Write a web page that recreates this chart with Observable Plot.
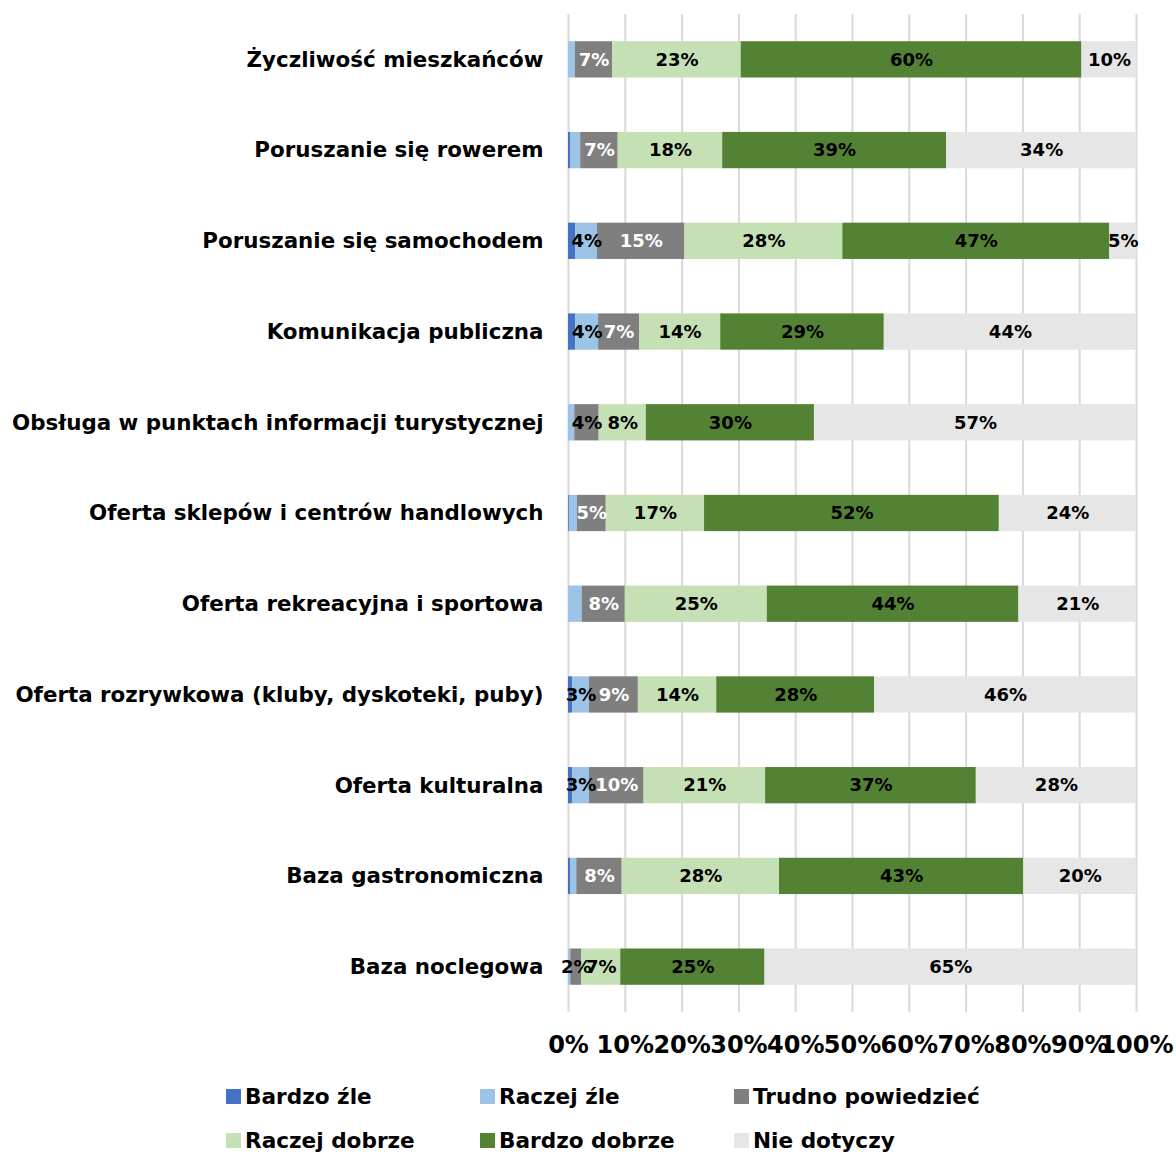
<!DOCTYPE html>
<html>
<head>
<meta charset="utf-8">
<script src="https://cdn.jsdelivr.net/npm/d3@7"></script>
<script src="https://cdn.jsdelivr.net/npm/@observablehq/plot@0.6"></script>
<style>
  html, body { margin: 0; padding: 0; background: #ffffff; }
  body { width: 1176px; font-family: "DejaVu Sans", sans-serif; font-weight: bold; }
  #legend { position: relative; width: 1176px; height: 88px; margin-top: 12px; }
  .item { position: absolute; display: flex; align-items: center; font-size: 21.6px; color: #000; white-space: nowrap; height: 44px; }
  .sw { width: 15px; height: 15px; margin-right: 4px; display: inline-block; }
</style>
</head>
<body>
<div id="chart"></div>
<div id="legend"></div>
<script>
const categories = [
  "Życzliwość mieszkańców",
  "Poruszanie się rowerem",
  "Poruszanie się samochodem",
  "Komunikacja publiczna",
  "Obsługa w punktach informacji turystycznej",
  "Oferta sklepów i centrów handlowych",
  "Oferta rekreacyjna i sportowa",
  "Oferta rozrywkowa (kluby, dyskoteki, puby)",
  "Oferta kulturalna",
  "Baza gastronomiczna",
  "Baza noclegowa"
];
const seriesNames = ["Bardzo źle", "Raczej źle", "Trudno powiedzieć", "Raczej dobrze", "Bardzo dobrze", "Nie dotyczy"];
const seriesColors = ["#4472c4", "#9dc3e6", "#7f7f7f", "#c5e0b4", "#548235", "#e7e6e6"];

const bardzoZle    = [0.0, 0.35, 1.3, 1.3, 0.0, 0.15, 0.0, 0.7, 0.7, 0.35, 0.0];
const raczejZle    = [1.2, 1.8, 3.8, 4.0, 1.1, 1.4, 2.4, 3.0, 3.0, 1.1, 0.4];
const trudno       = [6.6, 6.6, 15.4, 7.2, 4.3, 5.1, 7.6, 8.6, 9.6, 8.0, 1.9];
const raczejDobrze = [22.6, 18.4, 27.8, 14.3, 8.3, 17.3, 25.0, 13.8, 21.4, 27.7, 6.9];
const bardzoDobrze = [60.0, 39.4, 47.0, 28.8, 29.6, 51.9, 44.3, 27.8, 37.1, 43.0, 25.4];
const nieDotyczy   = [9.7, 33.5, 4.75, 44.4, 56.7, 24.1, 20.7, 46.1, 28.2, 19.9, 65.4];

const xTicks = [0, 10, 20, 30, 40, 50, 60, 70, 80, 90, 100];

const seriesValues = [bardzoZle, raczejZle, trudno, raczejDobrze, bardzoDobrze, nieDotyczy];
const data = [];
categories.forEach((c, i) => {
  seriesNames.forEach((s, j) => {
    data.push({category: c, series: s, value: seriesValues[j][i]});
  });
});

const fmt = d => Math.round(d.value) + "%";
const shown = d => d.series !== "Bardzo źle" && !(d.series === "Raczej źle" && d.value < 2.9);
const isWhite = d => d.series === "Trudno powiedzieć" && d.value >= 4.5;

const FONT = "DejaVu Sans, sans-serif";

const chart = Plot.plot({
  width: 1176,
  height: 1062,
  marginLeft: 568,
  marginRight: 40,
  marginTop: 14,
  marginBottom: 50,
  style: {fontFamily: FONT, fontWeight: "bold", background: "#ffffff", color: "#000"},
  x: {domain: [0, 100]},
  y: {domain: categories, paddingInner: 0.6, paddingOuter: 0.3, round: false},
  color: {domain: seriesNames, range: seriesColors},
  marks: [
    Plot.gridX(xTicks, {stroke: "#d9d9d9", strokeOpacity: 1, strokeWidth: 2}),
    Plot.barX(data, Plot.stackX({x: "value", y: "category", z: "series", fill: "series", order: seriesNames, inset: 0})),
    Plot.text(data, Plot.stackX({x: "value", y: "category", z: "series", order: seriesNames,
      text: d => (shown(d) && isWhite(d)) ? fmt(d) : null, fill: "#ffffff", fontSize: 18, fontWeight: "bold"})),
    Plot.text(data, Plot.stackX({x: "value", y: "category", z: "series", order: seriesNames,
      text: d => (shown(d) && !isWhite(d)) ? fmt(d) : null, fill: "#000000", fontSize: 18, fontWeight: "bold"})),
    Plot.axisY({tickSize: 0, tickPadding: 25, fontSize: 21.4, fontWeight: "bold", fill: "#000", label: null}),
    Plot.axisX({ticks: xTicks, tickSize: 0, tickPadding: 23, fontSize: 24, fontWeight: "bold", fill: "#000",
      tickFormat: d => d + "%", label: null})
  ]
});
document.getElementById("chart").appendChild(chart);

const legend = document.getElementById("legend");
const lx = [226, 480, 734];
seriesNames.forEach((s, i) => {
  const col = i % 3, row = Math.floor(i / 3);
  const it = document.createElement("div");
  it.className = "item";
  it.style.left = lx[col] + "px";
  it.style.top = (row * 44) + "px";
  const sw = document.createElement("span");
  sw.className = "sw";
  sw.style.background = seriesColors[i];
  it.appendChild(sw);
  it.appendChild(document.createTextNode(s));
  legend.appendChild(it);
});
</script>
</body>
</html>
